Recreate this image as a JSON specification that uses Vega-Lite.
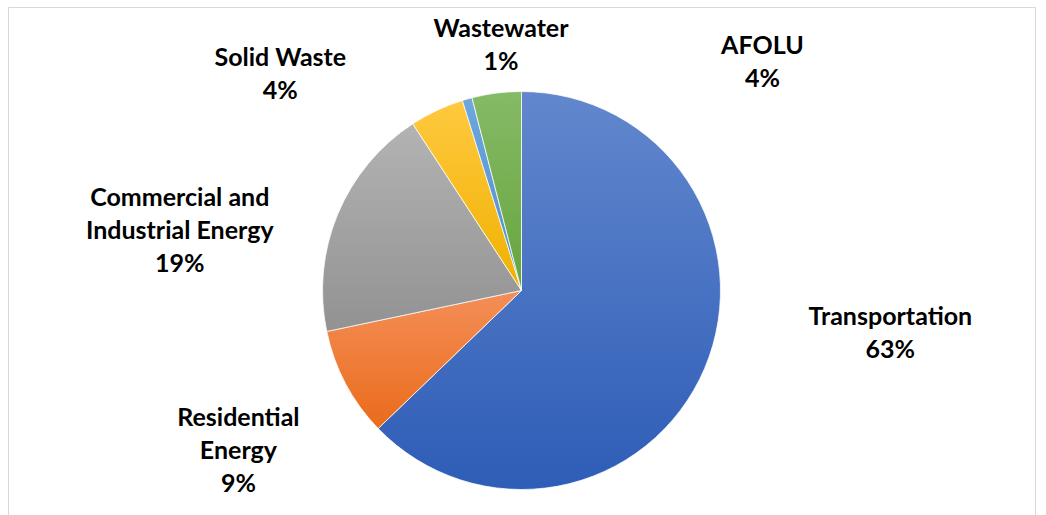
{
  "$schema": "https://vega.github.io/schema/vega-lite/v6.json",
  "width": 1027,
  "height": 567,
  "autosize": {"type": "none"},
  "padding": {"left": 8, "top": 7, "right": 11, "bottom": -59},
  "background": "white",
  "view": {"stroke": "#d5d9df", "strokeWidth": 1, "fill": "white"},
  "config": {"view": {"stroke": "#d5d9df", "strokeWidth": 1}, "style": {"cell": {"stroke": "#d5d9df"}}},
  "data": {
    "values": [
      {"category": "Transportation", "label": "Transportation", "share": 62.8},
      {"category": "Residential Energy", "label": "Residential\nEnergy", "share": 8.9},
      {"category": "Commercial and Industrial Energy", "label": "Commercial and\nIndustrial Energy", "share": 19.1},
      {"category": "Solid Waste", "label": "Solid Waste", "share": 4.4},
      {"category": "Wastewater", "label": "Wastewater", "share": 0.8},
      {"category": "AFOLU", "label": "AFOLU", "share": 4.0}
    ]
  },
  "transform": [
    {"window": [{"op": "row_number", "as": "idx"}]},
    {"calculate": "datum.label + '\\n' + format(datum.share / 100, '.0%')", "as": "text"}
  ],
  "encoding": {
    "theta": {"field": "share", "type": "quantitative", "stack": true},
    "order": {"field": "idx", "type": "quantitative"}
  },
  "layer": [
    {
      "mark": {"type": "arc", "outerRadius": 199, "stroke": "white", "strokeWidth": 0.75},
      "encoding": {
        "fill": {
          "condition": [
            {"test": "datum.category === 'Transportation'", "value": {"gradient": "linear", "x1": 0, "y1": 0, "x2": 0, "y2": 1, "stops": [{"offset": 0, "color": "#6287cd"}, {"offset": 1, "color": "#2e5db7"}]}},
            {"test": "datum.category === 'Residential Energy'", "value": {"gradient": "linear", "x1": 0, "y1": 0, "x2": 0, "y2": 1, "stops": [{"offset": 0, "color": "#f48f58"}, {"offset": 1, "color": "#ea6b1b"}]}},
            {"test": "datum.category === 'Commercial and Industrial Energy'", "value": {"gradient": "linear", "x1": 0, "y1": 0, "x2": 0, "y2": 1, "stops": [{"offset": 0, "color": "#b3b3b3"}, {"offset": 1, "color": "#929292"}]}},
            {"test": "datum.category === 'Solid Waste'", "value": {"gradient": "linear", "x1": 0, "y1": 0, "x2": 0, "y2": 1, "stops": [{"offset": 0, "color": "#ffc93f"}, {"offset": 1, "color": "#efb100"}]}},
            {"test": "datum.category === 'Wastewater'", "value": {"gradient": "linear", "x1": 0, "y1": 0, "x2": 0, "y2": 1, "stops": [{"offset": 0, "color": "#6ea7dd"}, {"offset": 1, "color": "#4e8dcf"}]}}
          ],
          "value": {"gradient": "linear", "x1": 0, "y1": 0, "x2": 0, "y2": 1, "stops": [{"offset": 0, "color": "#86ba66"}, {"offset": 1, "color": "#66a53e"}]}
        }
      }
    },
    {
      "mark": {
        "type": "text",
        "radius": 240,
        "font": "Lato",
        "fontWeight": "bold",
        "fontSize": 25,
        "color": "#000000",
        "lineBreak": "\n",
        "lineHeight": 33,
        "align": "center",
        "baseline": "middle",
        "dx": {"expr": "datum.category === 'Transportation' ? 148 : datum.category === 'Residential Energy' ? -71 : datum.category === 'Commercial and Industrial Energy' ? -120 : datum.category === 'Solid Waste' ? -139 : datum.category === 'Wastewater' ? 45 : 271"},
        "dy": {"expr": "datum.category === 'Transportation' ? -67.5 : datum.category === 'Residential Energy' ? 15 : datum.category === 'Commercial and Industrial Energy' ? -1 : datum.category === 'Solid Waste' ? -15.5 : datum.category === 'Wastewater' ? -30.5 : -6.5"}
      },
      "encoding": {"text": {"field": "text", "type": "nominal"}}
    }
  ]
}
